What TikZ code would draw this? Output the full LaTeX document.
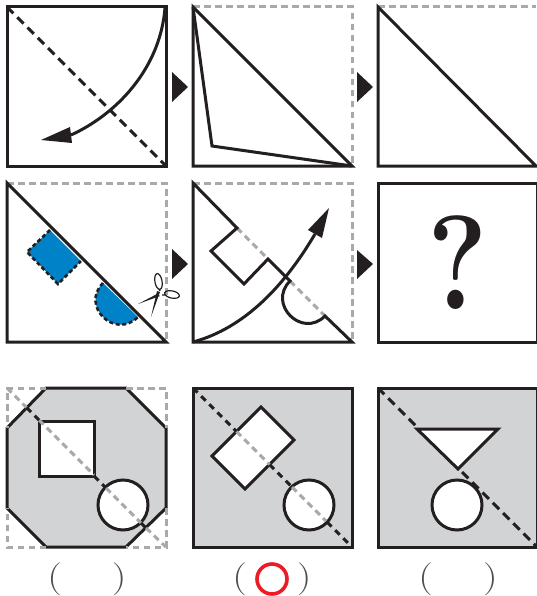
\documentclass[tikz,border=0pt]{standalone}
\usepackage{amsmath}
\definecolor{ink}{HTML}{231F20}
\definecolor{dashgray}{HTML}{A7A9AC}
\definecolor{sheet}{HTML}{D1D3D4}
\definecolor{cutblue}{HTML}{0082C8}
\definecolor{markred}{HTML}{ED1C24}
\begin{document}
\begin{tikzpicture}[x=1pt,y=-1pt,line width=3pt,line join=miter,
    edge/.style={draw=ink},
    fold/.style={ink,dash pattern=on 9pt off 5.5pt},
    foldthin/.style={ink,dash pattern=on 6.5pt off 5pt},
    ghost/.style={dashgray,line width=3pt,dash pattern=on 6.5pt off 4.5pt},
    wedge/.style={fill=ink,draw=none},
    paper/.style={draw=ink,fill=sheet},
    hole/.style={draw=ink,fill=white},
    blank/.style={font=\fontsize{33}{33}\selectfont,text=ink!80,xscale=1.25,transform shape}]
  \useasboundingbox (0,0) rectangle (536,596);
  % fila 1: plegado
  \draw[edge] (7,7) rectangle (166,166);
  \draw[fold] (7,7)--(166,166);
  \draw[ink] (165,8) .. controls (160,70) and (115,115) .. (71,135);
  \fill[wedge] (41,140)--(70,127)--(72,143)--cycle;
  \fill[wedge] (172,72)--(188,87)--(172,102)--cycle;
  \draw[ghost] (193,7)--(352,7)--(352,166);
  \draw[edge] (193,7)--(352,166)--(193,166)--cycle;
  \draw[edge] (193,7)--(212,146)--(352,166);
  \fill[wedge] (357,72)--(373,87)--(357,102)--cycle;
  \draw[ghost] (378,7)--(536,7);
  \draw[edge] (378,7)--(536,166)--(378,166)--cycle;
  % fila 2: corte
  \draw[ghost] (7,183)--(166,183)--(166,342);
  \draw[edge] (7,183)--(166,342)--(7,342)--cycle;
  \fill[cutblue] (50,230)--(81,261)--(58,284)--(27,252)--cycle;
  \draw[ink,line width=2.6pt,dash pattern=on 4pt off 2.6pt] (50,230)--(27,252)--(58,284)--(81,261);
  \fill[cutblue] (103,283) .. controls (80,306) and (115,340) .. (138,317)--cycle;
  \draw[ink,line width=2.6pt,dash pattern=on 4pt off 2.6pt] (103,283) .. controls (80,306) and (115,340) .. (138,317);
  % tijeras
  \fill[ink] (138,304)--(157,294)--(160,296)--cycle;
  \fill[ink] (151,317)--(157,291)--(160,292)--cycle;
  \draw[ink,line width=1.2pt] (158.5,281.5) ellipse[x radius=3.6,y radius=8,rotate=10];
  \draw[ink,line width=1.2pt] (172,294.5) ellipse[x radius=7.5,y radius=3.6,rotate=-12];
  \draw[ink,line width=1.2pt] (160,291)--(159,289) (162,295)--(165,295);
  \fill[wedge] (172,249)--(188,264)--(172,279)--cycle;
  \draw[ghost] (193,183)--(352,183)--(352,342);
  \draw[ghost] (237,228)--(268,259) (290,281)--(325,316);
  \draw[edge] (237,228)--(193,183)--(193,342)--(352,342)--(325,316)
    .. controls (302,339) and (267,304) .. (290,281)--(268,259)--(244,284)--(211,251)--cycle;
  \draw[ink] (193,342) .. controls (245,328) and (285,285) .. (315,234);
  \fill[wedge] (329,208)--(308,230)--(322,238)--cycle;
  \fill[wedge] (357,250)--(373,264)--(357,279)--cycle;
  \draw[edge] (378,183)--(537,183)--(537,342)--(378,342)--cycle;
  \node[inner sep=0pt,text=ink,xscale=0.85,transform shape] (quest) at (457.5,263) {\fontsize{134}{134}\selectfont\bfseries ?};
  % fila 3: opciones
  \filldraw[paper] (46,388)--(126,388)--(166,428)--(166,508)--(126,547)--(46,547)--(7,508)--(7,428)--cycle;
  \draw[ghost] (46,388)--(7,388)--(7,428) (126,388)--(166,388)--(166,428)
    (166,508)--(166,547)--(126,547) (46,547)--(7,547)--(7,508);
  \filldraw[hole] (39,421) rectangle (94,476);
  \filldraw[hole] (123,505) circle(25);
  \draw[ghost] (7,388)--(26.5,407.5) (39,420)--(94,475) (106,488)--(141,523) (146,528)--(166,547);
  \draw[foldthin] (26.5,407.5)--(39,420) (94,476)--(105,487) (141,523)--(146,528);
  \filldraw[paper] (193,388) rectangle (352,547);
  \filldraw[hole] (261,407)--(294,440)--(245,489)--(212,456)--cycle;
  \filldraw[hole] (309,505) circle(25);
  \draw[foldthin] (193,388)--(236.5,431.5) (269.5,464.5)--(291,486) (327,522)--(350,545);
  \draw[ghost] (236.5,431.5)--(269.5,464.5) (292,487)--(326,521);
  \filldraw[paper] (378,388)--(537,388)--(537,547)--(378,547)--cycle;
  \filldraw[hole] (417,429)--(498,429)--(458,469)--cycle;
  \filldraw[hole] (457,505) circle(25);
  \draw[fold] (378,388)--(417,427) (462,472)--(536,546);
  % parentesis y respuesta
  \node[blank] (ansa) at (87,579) {(\hspace{40pt})};
  \node[blank] (ansb) at (272,579) {(\hspace{40pt})};
  \node[blank] (ansc) at (458,579) {(\hspace{40pt})};
  \draw[markred,line width=3.6pt] (ansb.center) circle(15);
\end{tikzpicture}
\end{document}
